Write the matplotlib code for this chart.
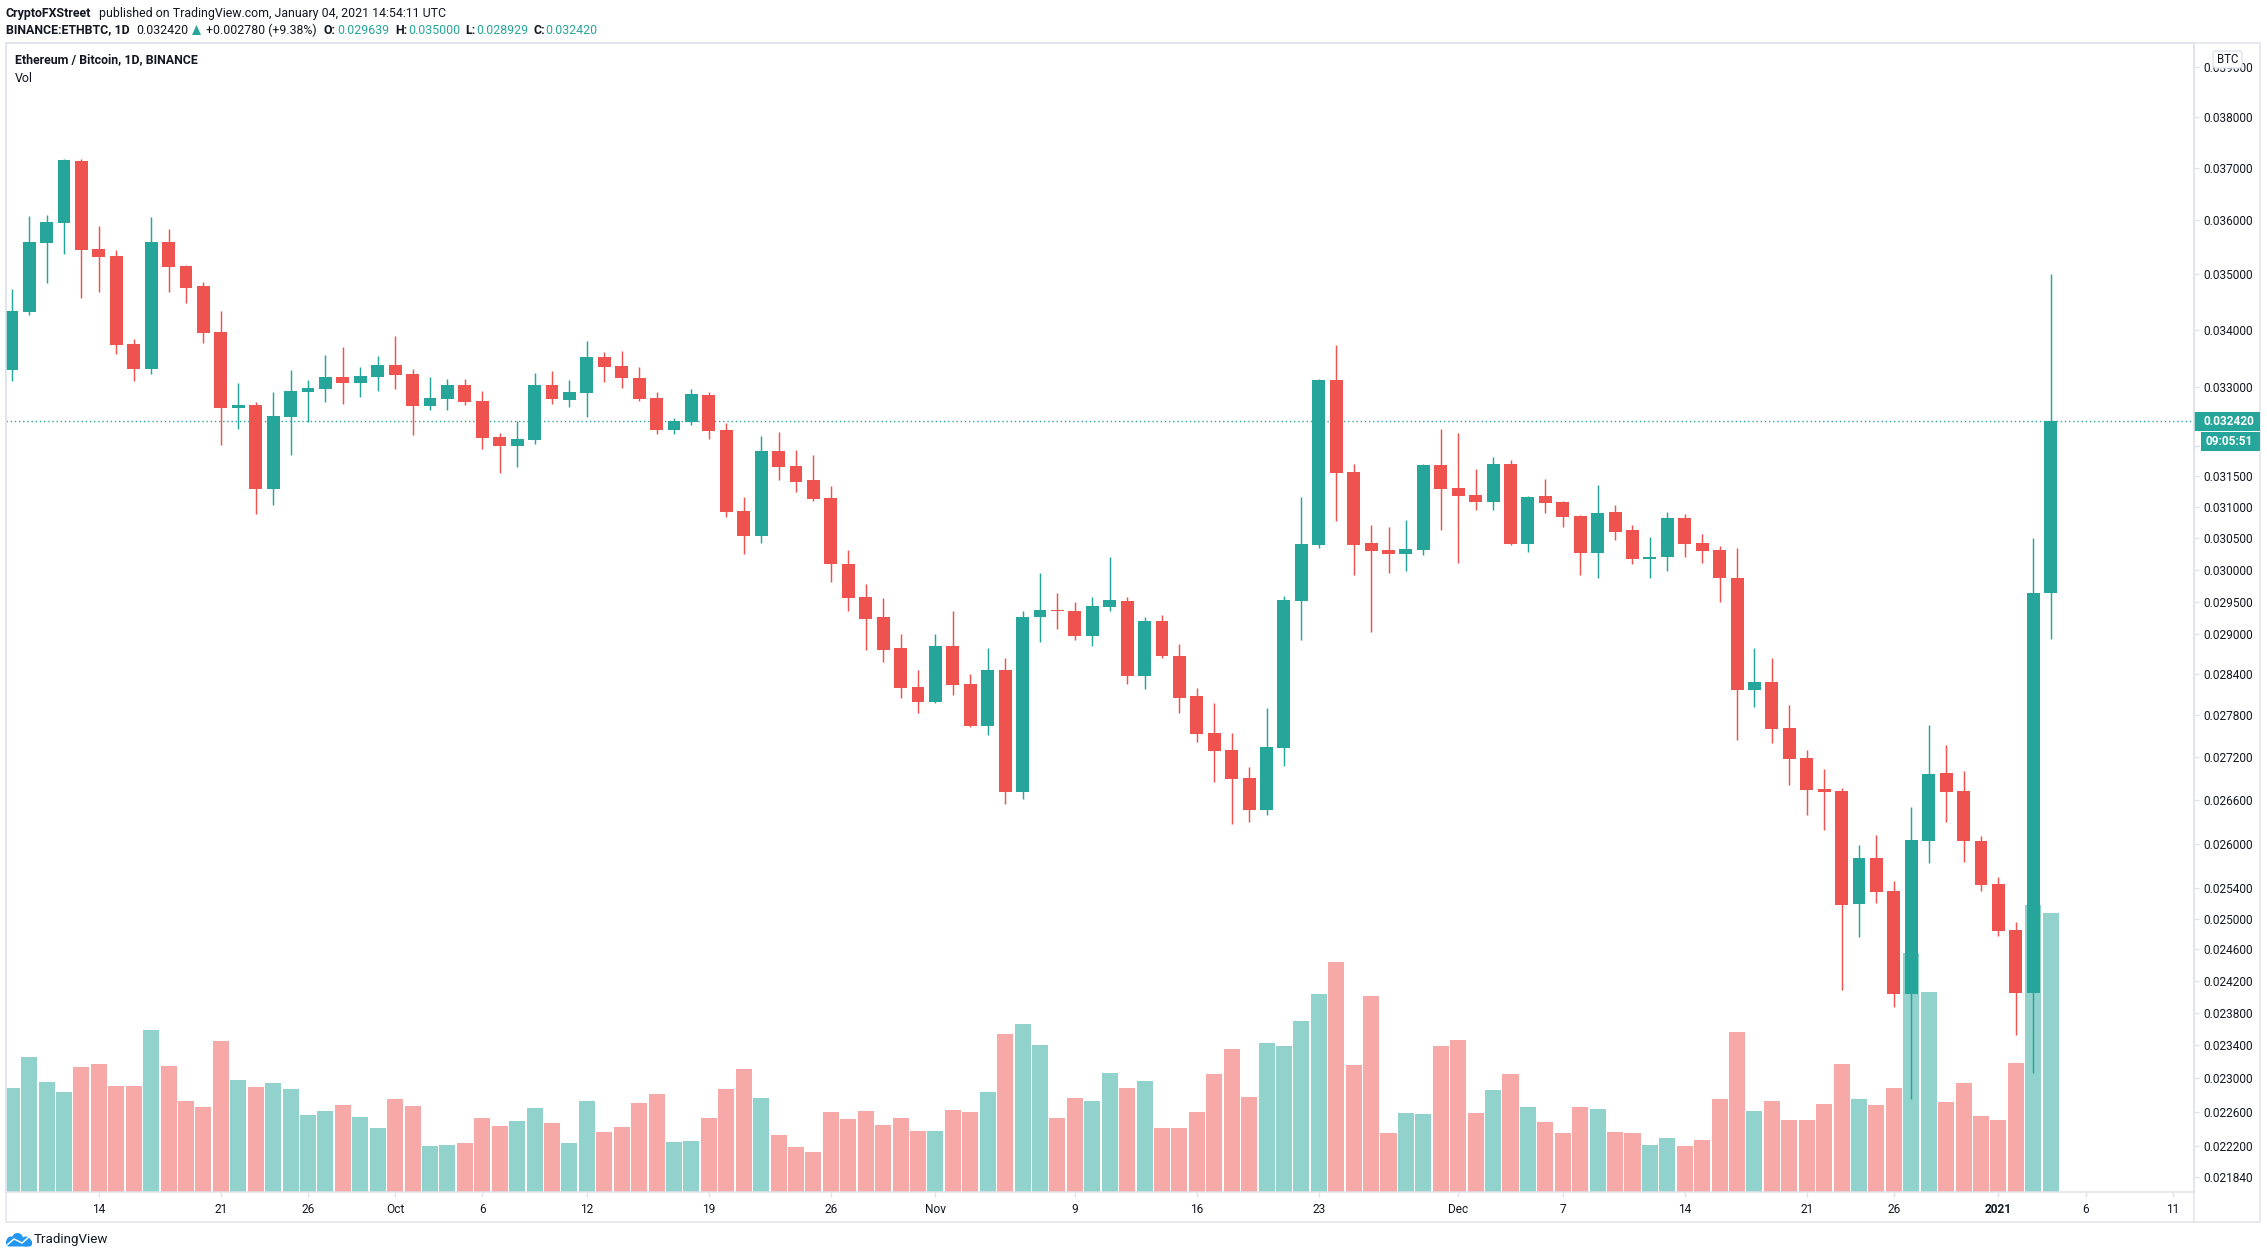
import matplotlib
matplotlib.use("Agg")
import matplotlib.pyplot as plt
import matplotlib.patches as mp
import numpy as np
import pandas as pd

plt.rcParams['font.family'] = ['Roboto', 'DejaVu Sans']

# ---------- data (ETH/BTC daily) ----------
start_date = "2020-09-09"
opens = [.03330,.03432,.03558,.03596,.03714,.03547,.03534,.03375,.03331,.03560,
 .03516,.03478,.03397,.03264,.03270,.03129,.03249,.03292,.03297,.03318,
 .03307,.03318,.03338,.03323,.03268,.03280,.03304,.03276,.03215,.03200,
 .03210,.03304,.03278,.03290,.03352,.03336,.03316,.03281,.03227,.03241,
 .03287,.03227,.03093,.03053,.03191,.03167,.03144,.03114,.03009,.02958,
 .02927,.02879,.02822,.02799,.02883,.02826,.02765,.02846,.02671,.02926,
 .02938,.02936,.02897,.02942,.02951,.02838,.02920,.02868,.02808,.02754,
 .02730,.02691,.02646,.02733,.02951,.03039,.03312,.03157,.03042,.03031,
 .03025,.03031,.03168,.03131,.03119,.03108,.03170,.03040,.03118,.03108,
 .03085,.03026,.03092,.03063,.03017,.03019,.03082,.03042,.03031,.02987,
 .02817,.02829,.02762,.02719,.02675,.02672,.02519,.02580,.02536,.02403,
 .02603,.02698,.02672,.02603,.02545,.02485,.02405,.029639]
closes = [.03434,.03560,.03598,.03716,.03545,.03532,.03373,.03331,.03560,.03514,
 .03476,.03395,.03264,.03270,.03129,.03251,.03293,.03299,.03318,.03307,
 .03319,.03338,.03321,.03268,.03281,.03304,.03275,.03213,.03200,.03212,
 .03304,.03280,.03292,.03352,.03335,.03316,.03280,.03227,.03242,.03288,
 .03225,.03092,.03053,.03191,.03165,.03141,.03113,.03008,.02956,.02924,
 .02877,.02820,.02799,.02882,.02825,.02765,.02846,.02671,.02926,.02938,
 .02935,.02898,.02944,.02953,.02838,.02920,.02867,.02806,.02753,.02729,
 .02689,.02646,.02734,.02953,.03040,.03312,.03155,.03039,.03029,.03025,
 .03033,.03168,.03129,.03118,.03108,.03170,.03040,.03116,.03106,.03084,
 .03026,.03090,.03060,.03017,.03020,.03082,.03040,.03029,.02986,.02817,
 .02829,.02760,.02717,.02674,.02671,.02518,.02580,.02535,.02403,.02605,
 .02696,.02671,.02603,.02544,.02484,.02405,.02964,.03242]
highs = [.03474,.03609,.03611,.03718,.03718,.03590,.03545,.03384,.03607,.03584,
 .03518,.03487,.03434,.03307,.03275,.03292,.03330,.03312,.03355,.03369,
 .03335,.03354,.03389,.03331,.03318,.03314,.03314,.03293,.03222,.03242,
 .03324,.03328,.03312,.03380,.03361,.03362,.03335,.03292,.03247,.03297,
 .03292,.03239,.03116,.03216,.03224,.03193,.03185,.03133,.03031,.02978,
 .02955,.02900,.02846,.02900,.02935,.02840,.02879,.02865,.02936,.02995,
 .02964,.02950,.02958,.03020,.02958,.02927,.02930,.02886,.02820,.02798,
 .02754,.02706,.02790,.02959,.03116,.03314,.03373,.03170,.03071,.03068,
 .03079,.03170,.03229,.03222,.03162,.03182,.03177,.03118,.03145,.03109,
 .03087,.03135,.03103,.03071,.03052,.03092,.03089,.03057,.03037,.03034,
 .02880,.02864,.02795,.02730,.02703,.02677,.02598,.02612,.02549,.02650,
 .02766,.02737,.02701,.02610,.02555,.02495,.03050,.03500]
lows = [.03311,.03427,.03485,.03538,.03458,.03468,.03357,.03311,.03323,.03468,
 .03449,.03377,.03201,.03229,.03089,.03103,.03185,.03241,.03275,.03271,
 .03283,.03293,.03297,.03219,.03261,.03261,.03270,.03195,.03155,.03165,
 .03203,.03271,.03266,.03249,.03309,.03299,.03276,.03220,.03220,.03236,
 .03211,.03084,.03025,.03042,.03144,.03124,.03109,.02980,.02936,.02877,
 .02859,.02805,.02783,.02798,.02810,.02763,.02752,.02654,.02661,.02888,
 .02909,.02892,.02882,.02936,.02826,.02818,.02865,.02783,.02741,.02685,
 .02627,.02629,.02639,.02708,.02892,.03034,.03077,.02992,.02903,.02994,
 .02998,.03023,.03063,.03011,.03095,.03095,.03039,.03028,.03090,.03068,
 .02992,.02987,.03047,.03009,.02987,.02998,.03020,.03011,.02950,.02744,
 .02792,.02740,.02681,.02639,.02619,.02408,.02476,.02521,.02387,.02275,
 .02574,.02629,.02575,.02536,.02478,.02353,.02306,.028929]
volumes = [104,135,110,100,125,128,106,106,162,126,
 91,85,151,112,105,109,103,77,81,87,
 75,64,93,86,46,47,49,74,66,71,
 84,69,49,91,60,65,89,98,50,51,
 74,103,123,94,57,45,40,80,73,81,
 67,74,61,61,82,80,100,158,168,147,
 74,94,91,119,104,111,64,64,80,118,
 143,95,149,146,171,198,230,127,196,59,
 79,78,146,152,79,102,118,85,70,59,
 85,83,60,59,47,54,46,52,93,160,
 81,91,72,72,88,128,93,87,104,239,
 200,90,109,76,72,129,287,279]

price_ticks = [.039,.038,.037,.036,.035,.034,.033,.032,.0315,.031,.0305,.030,.0295,.029,
               .0284,.0278,.0272,.0266,.026,.0254,.025,.0246,.0242,.0238,.0234,.023,
               .0226,.0222,.02184]
hidden_tick = .032
date_ticks = ["2020-09-14","2020-09-21","2020-09-26","2020-10-01","2020-10-06","2020-10-12",
              "2020-10-19","2020-10-26","2020-11-01","2020-11-09","2020-11-16","2020-11-23",
              "2020-12-01","2020-12-07","2020-12-14","2020-12-21","2020-12-26","2021-01-01",
              "2021-01-06","2021-01-11"]
date_labels = ["14","21","26","Oct","6","12","19","26","Nov","9","16","23","Dec","7","14",
               "21","26","2021","6","11"]

UP, DOWN = "#26a69a", "#ef5350"
UP_V, DOWN_V = "#92d2cc", "#f7a9a7"
LINE = "#e0e3eb"
TXT = "#131722"
W, H = 2267, 1258
L_, R_, T_, B_ = 6, 2194, 43, 1192

fig = plt.figure(figsize=(W/100, H/100), dpi=100, facecolor="white")
pos = [L_/W, 1-B_/H, (R_-L_)/W, (B_-T_)/H]

dates = pd.date_range(start_date, periods=len(opens), freq="D")
x = np.array([(d - dates[0]).days for d in dates], dtype=float)
o, c, hi, lo = map(np.array, (opens, closes, highs, lows))
up = c >= o
xlim = (-0.33, 125.22)

# volume pane (no scale shown)
axv = fig.add_axes(pos, zorder=1)
axv.bar(x, volumes, width=0.92, color=[UP_V if u else DOWN_V for u in up], linewidth=0)
axv.set_xlim(*xlim)
axv.set_ylim(0, B_-T_)
axv.axis("off")

# price pane
ax = fig.add_axes(pos, zorder=2)
ax.patch.set_alpha(0)
ax.set_yscale("log")
ax.set_xlim(*xlim)
ax.set_ylim(0.021673, 0.039497)
colors = [UP if u else DOWN for u in up]
ax.vlines(x, lo, hi, colors=colors, linewidth=1.05, zorder=3)
ax.bar(x, np.abs(c-o), bottom=np.minimum(o, c), width=0.74, color=colors, linewidth=0, zorder=4)
ax.axhline(closes[-1], color=UP, linestyle=(0, (1, 2)), linewidth=1.0, zorder=2)

ax.yaxis.tick_right()
ax.set_yticks(price_ticks + [hidden_tick])
ax.set_yticklabels([f"{p:.6f}" for p in price_ticks] + [""])
ax.minorticks_off()
ax.tick_params(axis="y", which="major", length=3.6, width=1, color=LINE, labelcolor=TXT,
               labelsize=8.6, pad=3)
day = lambda s: (pd.Timestamp(s) - dates[0]).days
ax.set_xticks([day(s) for s in date_ticks])
ax.set_xticklabels(date_labels)
ax.tick_params(axis="x", length=3.6, width=1, color=LINE, labelcolor=TXT, labelsize=8.6, pad=4)
for lab in ax.get_xticklabels():
    if lab.get_text() == "2021":
        lab.set_fontweight("bold")
for s in ax.spines.values():
    s.set_color(LINE)
    s.set_linewidth(1.1)

# page furniture, in pixels
ov = fig.add_axes([0, 0, 1, 1], zorder=5)
ov.set_xlim(0, W)
ov.set_ylim(H, 0)
ov.axis("off")
ov.patch.set_alpha(0)
ov.add_patch(mp.Rectangle((L_, T_), 2260-L_, 1222-T_, fill=False, ec=LINE, lw=1.1))
ov.plot([R_, R_], [T_, 1222], color=LINE, lw=1.1)

FS = 8.9
def t(px, py, s, **kw):
    kw.setdefault("fontsize", FS)
    kw.setdefault("color", TXT)
    return ov.text(px, py, s, va="center", ha=kw.pop("ha", "left"), **kw)

t(6, 13, "CryptoFXStreet", fontweight="bold")
t(99, 13, "published on TradingView.com, January 04, 2021 14:54:11 UTC")
t(6, 30, "BINANCE:ETHBTC, 1D", fontweight="bold")
t(136, 30, "0.032420")
ov.add_patch(mp.Polygon([[192, 35], [201, 35], [196.5, 25]], color=UP, lw=0))
t(206, 30, "+0.002780 (+9.38%)")
for px, name, pv, val in [(323, "O:", 337, "0.029639"), (395, "H:", 408, "0.035000"),
                          (465, "L:", 476, "0.028929"), (533, "C:", 545, "0.032420")]:
    t(px, 30, name, fontweight="bold")
    t(pv, 30, val, color=UP)
t(15, 60, "Ethereum / Bitcoin, 1D, BINANCE", fontweight="bold")
t(15, 78, "Vol")

ov.add_patch(mp.Rectangle((R_, 412), 2260-R_, 19, color=UP, lw=0))
t(2203, 421.5, "0.032420", color="white", fontweight="bold", fontsize=8.6)
ov.add_patch(mp.Rectangle((2201, 432), 59, 19, color=UP, lw=0))
t(2205, 441.5, "09:05:51", color="white", fontweight="bold", fontsize=8.6)

ov.add_patch(mp.FancyBboxPatch((2213, 51), 29, 17, boxstyle="round,pad=0,rounding_size=3",
                               fc="white", ec=LINE, lw=1))
t(2227.5, 59.5, "BTC", ha="center", fontsize=8.3)

# logo
BLUE = "#2196f3"
ov.add_patch(mp.Polygon([[6, 1245], [6, 1241], [11, 1238], [25, 1238], [32, 1241], [32, 1245],
                         [30, 1246.5], [8, 1246.5]], color=BLUE, lw=0))
for cx, cy, r in [(17.5, 1238.5, 5.5), (11, 1241, 4.5), (26, 1241.5, 5)]:
    ov.add_patch(mp.Ellipse((cx, cy), 2*r, 2*r, color=BLUE, lw=0))
ov.plot([7, 14, 22, 30], [1245, 1239, 1243, 1236], color="white", lw=1.1)
t(34, 1239, "TradingView", fontsize=9.6)

fig.savefig("out.png", dpi=100, facecolor="white")
